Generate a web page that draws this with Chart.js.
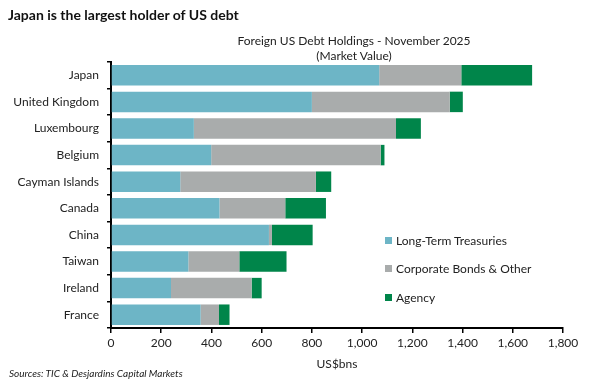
<!DOCTYPE html>
<html>
<head>
<meta charset="utf-8">
<script src="https://cdn.jsdelivr.net/npm/chart.js@4"></script>
<style>
    body { margin: 0; background: #fff; font-family: Lato, "Open Sans", sans-serif; color: #222; }
    #wrap { position: relative; width: 596px; height: 386px; }
    canvas { position: absolute; left: 0; top: 0; }
    .txt { position: absolute; white-space: nowrap; }
    #mainTitle { left: 8px; top: 6px; font-size: 14px; font-weight: bold; color: #111; }
    #chartTitle { left: 204px; width: 300px; top: 33px; font-size: 12px; text-align: center; line-height: 15px; }
    #source { left: 9px; top: 367px; font-size: 10px; font-style: italic; }
    .legend-item { position: absolute; left: 385px; font-size: 12px; }
    .legend-item span { display: inline-block; width: 7px; height: 7px; margin-right: 4px; vertical-align: 1px; }
</style>
</head>
<body>
<div id="wrap">
    <canvas id="debtChart" width="596" height="386"></canvas>
    <div class="txt" id="mainTitle">Japan is the largest holder of US debt</div>
    <div class="txt" id="chartTitle">Foreign US Debt Holdings - November 2025<br>(Market Value)</div>
    <div class="txt" id="source">Sources: TIC &amp; Desjardins Capital Markets</div>
    <div id="legend"></div>
</div>
<script>
// Countries, top to bottom
const countries = ['Japan', 'United Kingdom', 'Luxembourg', 'Belgium', 'Cayman Islands',
    'Canada', 'China', 'Taiwan', 'Ireland', 'France'];

// Holdings in US$bns
const longTermTreasuries = [1068, 800, 330, 399, 276, 432, 629, 308, 239, 357];
const corporateBonds = [327, 549, 805, 675, 540, 262, 12, 203, 321, 73];
const agency = [282, 52, 99, 15, 61, 162, 162, 188, 40, 42];

const xTicks = [0, 200, 400, 600, 800, 1000, 1200, 1400, 1600, 1800];

const seriesNames = ['Long-Term Treasuries', 'Corporate Bonds & Other', 'Agency'];
const colors = ['#6db5c6', '#a9acac', '#00854a'];

const datasets = [longTermTreasuries, corporateBonds, agency].map((data, i) => ({
    label: seriesNames[i],
    data: data,
    backgroundColor: colors[i],
    borderWidth: 0,
    barPercentage: 0.77,
    categoryPercentage: 1
}));

// Legend inside the plot, built by hand
const legendDiv = document.getElementById('legend');
const legendTops = [233, 261, 290];
seriesNames.forEach((name, i) => {
    const item = document.createElement('div');
    item.className = 'legend-item';
    item.style.top = legendTops[i] + 'px';
    item.innerHTML = `<span style="background:${colors[i]}"></span>${name.replace('&', '&amp;')}`;
    legendDiv.appendChild(item);
});

const ctx = document.getElementById('debtChart').getContext('2d');
new Chart(ctx, {
    type: 'bar',
    data: {
        labels: countries,
        datasets: datasets
    },
    options: {
        indexAxis: 'y',
        responsive: false,
        animation: false,
        layout: {
            padding: { left: 0, right: 33, top: 62, bottom: 0 }
        },
        scales: {
            x: {
                stacked: true,
                min: 0,
                max: 1800,
                afterBuildTicks: (scale) => {
                    scale.ticks = xTicks.map(v => ({ value: v }));
                },
                afterFit: (scale) => { scale.height = 58; },
                ticks: {
                    color: '#222',
                    padding: 3,
                    maxRotation: 0,
                    font: { family: 'Lato', size: 12 },
                    callback: (value) => value.toLocaleString('en-US')
                },
                grid: {
                    display: true,
                    drawOnChartArea: false,
                    drawTicks: true,
                    tickLength: 5,
                    color: '#000',
                    lineWidth: 1.5
                },
                border: { color: '#000', width: 2 },
                title: {
                    display: true,
                    text: 'US$bns',
                    color: '#222',
                    font: { family: 'Lato', size: 12 },
                    padding: { top: 0, bottom: 15 }
                }
            },
            y: {
                stacked: true,
                afterFit: (scale) => { scale.width = 111; },
                ticks: {
                    color: '#222',
                    padding: 8,
                    font: { family: 'Lato', size: 12 }
                },
                grid: {
                    display: true,
                    offset: true,
                    drawOnChartArea: false,
                    drawTicks: true,
                    tickLength: 4,
                    color: '#000',
                    lineWidth: 1.5
                },
                border: { color: '#000', width: 2 }
            }
        },
        plugins: {
            legend: { display: false },
            tooltip: { enabled: false }
        }
    }
});
</script>
</body>
</html>
